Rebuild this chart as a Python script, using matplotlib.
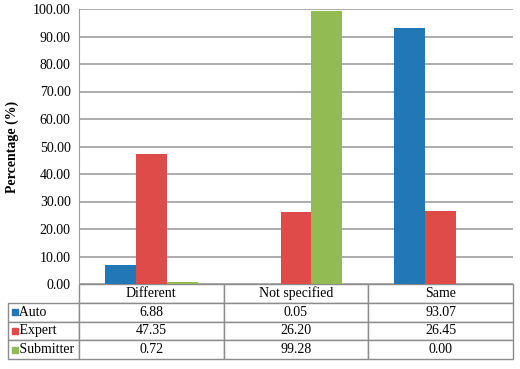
import matplotlib
matplotlib.use("Agg")
import matplotlib.pyplot as plt
from matplotlib.patches import Rectangle
import numpy as np

categories = ["Different", "Not specified", "Same"]
series_names = ["Auto", "Expert", "Submitter"]
auto = [6.88, 0.05, 93.07]
expert = [47.35, 26.20, 26.45]
submitter = [0.72, 99.28, 0.00]
yticks = [0, 10, 20, 30, 40, 50, 60, 70, 80, 90, 100]

colors = ["#2277b5", "#de4b49", "#93bb53"]
plt.rcParams['font.family'] = ['Liberation Serif', 'DejaVu Serif']

fig = plt.figure(figsize=(5.2, 3.69), dpi=100, facecolor="white")
ax = fig.add_axes([79 / 520, 85 / 369, 434 / 520, 275 / 369])

x = np.arange(len(categories))
w = 0.214
for i, vals in enumerate([auto, expert, submitter]):
    ax.bar(x + (i - 1) * w, vals, width=w, color=colors[i], zorder=3)

ax.set_xlim(-0.5, 2.5)
ax.set_ylim(0, 100)
ax.set_yticks(yticks)
ax.set_yticklabels([f"{v:.2f}" for v in yticks], fontsize=10)
ax.set_xticks([])
ax.tick_params(axis="y", length=0, pad=6)
ax.yaxis.grid(True, color="#9e9e9e", linewidth=1.2, zorder=0)
for s in ["top", "right", "bottom"]:
    ax.spines[s].set_visible(False)
ax.spines["left"].set_color("#9e9e9e")
ax.set_ylabel("Percentage (%)", fontsize=10, fontweight="bold", labelpad=10)

# data table below the plot
cell_text = [[""] + categories]
for name, vals in zip(series_names, [auto, expert, submitter]):
    cell_text.append(["   " + name] + [f"{v:.2f}" for v in vals])

left = (8 - 79) / 434
th = 75 / 275
tbl = ax.table(cellText=cell_text, colWidths=[71, 145, 145, 145],
               bbox=[left, -th, 1 - left, th], cellLoc="center")
tbl.auto_set_font_size(False)
tbl.set_fontsize(10)
for (r, c), cell in tbl.get_celld().items():
    cell.set_edgecolor("#8c8c8c")
    cell.set_linewidth(1.0)
    if r == 0 and c == 0:
        cell.visible_edges = ""
    if c == 0 and r > 0:
        cell._loc = "left"
        cell.PAD = 0.02
        cell.get_text().set_ha("left")

rh = th / 4
sq_w = 6 / 434
sq_h = 6 / 275
for i in range(3):
    yc = -(i + 1.5) * rh
    ax.add_patch(Rectangle(((12 - 79) / 434, yc - sq_h / 2), sq_w, sq_h,
                           transform=ax.transAxes, color=colors[i], clip_on=False, zorder=5))

fig.savefig("out.png", dpi=100, facecolor="white")
